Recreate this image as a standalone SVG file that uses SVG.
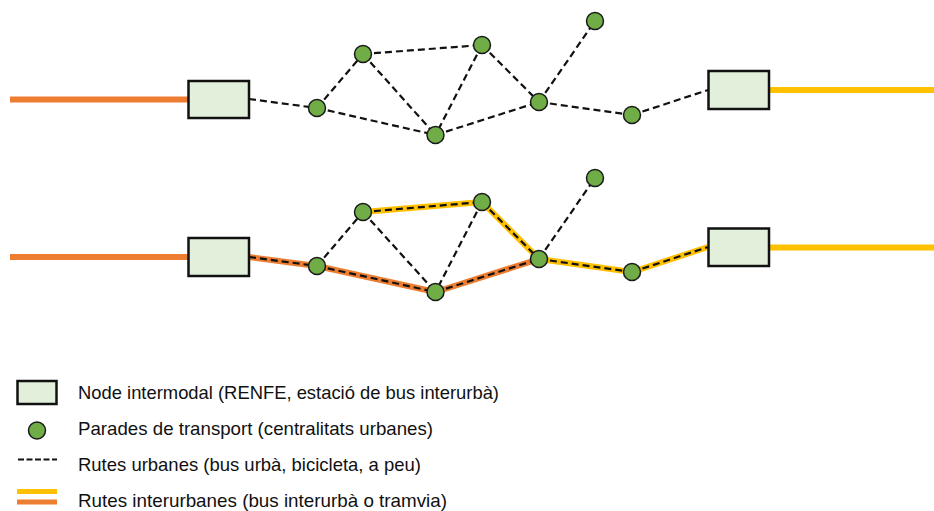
<svg xmlns="http://www.w3.org/2000/svg" width="934" height="511" viewBox="0 0 934 511">
<style>
.box{fill:#E2EFDA;stroke:#111;stroke-width:2.5}
.stop{fill:#70AD47;stroke:#1a1a1a;stroke-width:1.5}
.urb{fill:none;stroke:#111;stroke-width:2.2;stroke-dasharray:7 4}
.or{fill:none;stroke:#ED7D31;stroke-width:6;stroke-linejoin:round}
.ye{fill:none;stroke:#FFC000;stroke-width:6;stroke-linejoin:round}
.t{font-family:"Liberation Sans",Arial,sans-serif;font-size:19px;fill:#111}
</style>
<rect width="934" height="511" fill="#fff"/>
<g id="connectors">
  <!-- top network -->
  <line class="or" x1="10" y1="99.5" x2="188" y2="99.5"/>
  <line class="ye" x1="769" y1="90" x2="934" y2="90"/>
  <line class="urb" x1="249" y1="99" x2="317" y2="108"/>
  <line class="urb" x1="317" y1="108" x2="363" y2="54"/>
  <line class="urb" x1="317" y1="108" x2="435.5" y2="135"/>
  <line class="urb" x1="363" y1="54" x2="482" y2="45"/>
  <line class="urb" x1="363" y1="54" x2="435.5" y2="135"/>
  <line class="urb" x1="482" y1="45" x2="435.5" y2="135"/>
  <line class="urb" x1="482" y1="45" x2="539" y2="102"/>
  <line class="urb" x1="435.5" y1="135" x2="539" y2="102"/>
  <line class="urb" x1="539" y1="102" x2="595" y2="21"/>
  <line class="urb" x1="539" y1="102" x2="632" y2="115"/>
  <line class="urb" x1="632" y1="115" x2="708" y2="90"/>
  <!-- bottom network -->
  <line class="or" x1="10" y1="257" x2="188" y2="257"/>
  <line class="ye" x1="769" y1="247.5" x2="934" y2="247.5"/>
  <polyline class="or" points="249,257 317,266 435.5,292 539,259"/>
  <polyline class="ye" points="363,212 482,202 539,259 632,272 708,247"/>
  <line class="urb" x1="249" y1="257" x2="317" y2="266"/>
  <line class="urb" x1="317" y1="266" x2="363" y2="212"/>
  <line class="urb" x1="317" y1="266" x2="435.5" y2="292"/>
  <line class="urb" x1="363" y1="212" x2="482" y2="202"/>
  <line class="urb" x1="363" y1="212" x2="435.5" y2="292"/>
  <line class="urb" x1="482" y1="202" x2="435.5" y2="292"/>
  <line class="urb" x1="482" y1="202" x2="539" y2="259"/>
  <line class="urb" x1="435.5" y1="292" x2="539" y2="259"/>
  <line class="urb" x1="539" y1="259" x2="595" y2="178"/>
  <line class="urb" x1="539" y1="259" x2="632" y2="272"/>
  <line class="urb" x1="632" y1="272" x2="708" y2="247"/>
</g>
<g id="top-box-left"><rect class="box" x="188.5" y="81" width="60.5" height="37"/></g>
<g id="top-box-right"><rect class="box" x="708.5" y="71" width="60.5" height="38"/></g>
<g id="top-stop-1"><circle class="stop" cx="317" cy="108" r="8.5"/></g>
<g id="top-stop-2"><circle class="stop" cx="363" cy="54" r="8.5"/></g>
<g id="top-stop-3"><circle class="stop" cx="435.5" cy="135" r="8.5"/></g>
<g id="top-stop-4"><circle class="stop" cx="482" cy="45" r="8.5"/></g>
<g id="top-stop-5"><circle class="stop" cx="539" cy="102" r="8.5"/></g>
<g id="top-stop-6"><circle class="stop" cx="595" cy="21" r="8.5"/></g>
<g id="top-stop-7"><circle class="stop" cx="632" cy="115" r="8.5"/></g>
<g id="bottom-box-left"><rect class="box" x="188.5" y="238" width="60.5" height="38"/></g>
<g id="bottom-box-right"><rect class="box" x="708.5" y="228.5" width="60.5" height="37.5"/></g>
<g id="bottom-stop-1"><circle class="stop" cx="317" cy="266" r="8.5"/></g>
<g id="bottom-stop-2"><circle class="stop" cx="363" cy="212" r="8.5"/></g>
<g id="bottom-stop-3"><circle class="stop" cx="435.5" cy="292" r="8.5"/></g>
<g id="bottom-stop-4"><circle class="stop" cx="482" cy="202" r="8.5"/></g>
<g id="bottom-stop-5"><circle class="stop" cx="539" cy="259" r="8.5"/></g>
<g id="bottom-stop-6"><circle class="stop" cx="595" cy="178" r="8.5"/></g>
<g id="bottom-stop-7"><circle class="stop" cx="632" cy="272" r="8.5"/></g>
<g id="legend">
  <rect class="box" x="17.5" y="381" width="39" height="23"/>
  <circle class="stop" cx="37" cy="430.5" r="8.5"/>
  <line class="urb" x1="18" y1="459.5" x2="57" y2="459.5" style="stroke-dasharray:6 2.5"/>
  <line class="ye" x1="17" y1="491.5" x2="57" y2="491.5" style="stroke-width:5"/>
  <line class="or" x1="17" y1="502" x2="57" y2="502" style="stroke-width:5"/>
  <text class="t" x="78" y="399" textLength="421" lengthAdjust="spacingAndGlyphs">Node intermodal (RENFE, estació de bus interurbà)</text>
  <text class="t" x="78" y="435" textLength="355" lengthAdjust="spacingAndGlyphs">Parades de transport (centralitats urbanes)</text>
  <text class="t" x="78" y="471" textLength="343" lengthAdjust="spacingAndGlyphs">Rutes urbanes (bus urbà, bicicleta, a peu)</text>
  <text class="t" x="78" y="507" textLength="369" lengthAdjust="spacingAndGlyphs">Rutes interurbanes (bus interurbà o tramvia)</text>
</g>
</svg>
